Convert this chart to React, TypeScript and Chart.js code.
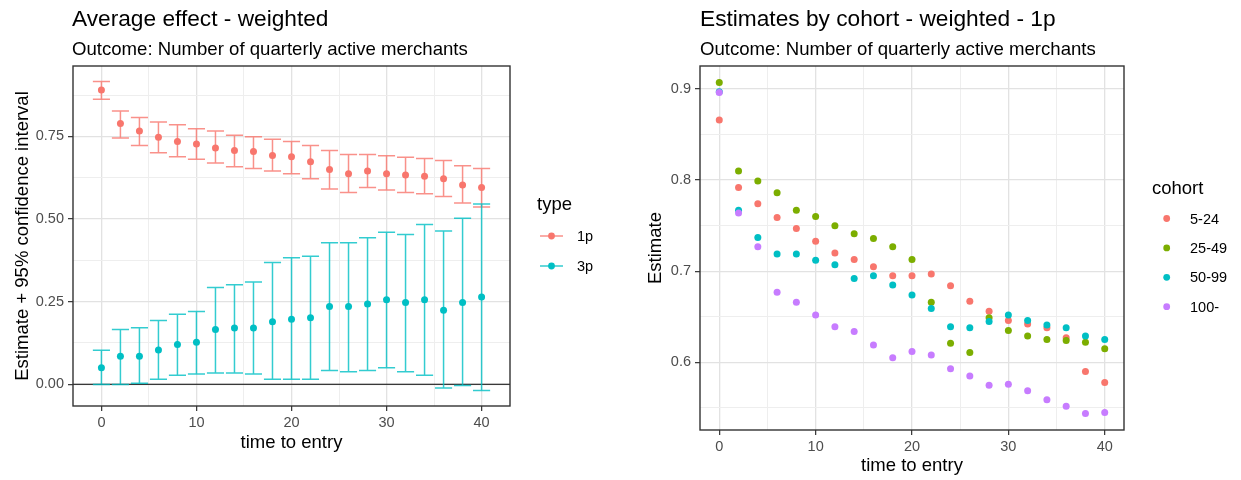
import React, { useEffect, useRef } from 'react';
import { Chart, registerables } from 'chart.js';

Chart.register(...registerables);

const FONT = "'Liberation Sans', Arial, sans-serif";

// ---------- data ----------
const times = [0, 2, 4, 6, 8, 10, 12, 14, 16, 18, 20, 22, 24, 26, 28, 30, 32, 34, 36, 38, 40];

const typeLabels = ['1p', '3p'];
const est1p = [0.890, 0.789, 0.766, 0.747, 0.734, 0.727, 0.715, 0.707, 0.704, 0.692, 0.688, 0.673, 0.650, 0.637, 0.645, 0.637, 0.633, 0.629, 0.622, 0.603, 0.595];
const lo1p = [0.862, 0.745, 0.722, 0.700, 0.688, 0.681, 0.669, 0.658, 0.653, 0.645, 0.637, 0.622, 0.591, 0.580, 0.595, 0.588, 0.580, 0.576, 0.568, 0.548, 0.536];
const hi1p = [0.916, 0.827, 0.807, 0.793, 0.785, 0.773, 0.766, 0.753, 0.749, 0.741, 0.734, 0.722, 0.707, 0.695, 0.695, 0.691, 0.687, 0.683, 0.677, 0.661, 0.653];
const est3p = [0.050, 0.085, 0.085, 0.104, 0.120, 0.127, 0.166, 0.170, 0.170, 0.189, 0.197, 0.201, 0.235, 0.235, 0.243, 0.256, 0.247, 0.256, 0.224, 0.247, 0.264];
const lo3p = [-0.001, -0.001, 0.003, 0.015, 0.027, 0.031, 0.034, 0.034, 0.031, 0.015, 0.015, 0.015, 0.042, 0.038, 0.042, 0.050, 0.038, 0.027, -0.011, -0.004, -0.019];
const hi3p = [0.103, 0.166, 0.171, 0.193, 0.212, 0.220, 0.293, 0.301, 0.309, 0.368, 0.383, 0.387, 0.428, 0.428, 0.443, 0.460, 0.453, 0.483, 0.464, 0.502, 0.545];

const cohortLabels = ['5-24', '25-49', '50-99', '100-'];
const coh5to24 = [0.866, 0.792, 0.774, 0.759, 0.747, 0.733, 0.720, 0.713, 0.705, 0.695, 0.695, 0.697, 0.684, 0.667, 0.656, 0.646, 0.642, 0.638, 0.627, 0.590, 0.578];
const coh25to49 = [0.907, 0.810, 0.799, 0.786, 0.767, 0.760, 0.750, 0.741, 0.736, 0.727, 0.713, 0.666, 0.621, 0.611, 0.649, 0.635, 0.629, 0.625, 0.624, 0.622, 0.615];
const coh50to99 = [0.897, 0.767, 0.737, 0.719, 0.719, 0.712, 0.707, 0.692, 0.695, 0.685, 0.674, 0.659, 0.639, 0.638, 0.645, 0.652, 0.646, 0.641, 0.638, 0.629, 0.625];
const coh100plus = [0.896, 0.764, 0.727, 0.677, 0.666, 0.652, 0.639, 0.634, 0.619, 0.605, 0.612, 0.608, 0.593, 0.585, 0.575, 0.576, 0.569, 0.559, 0.552, 0.544, 0.545];

const xTicks = [0, 5, 10, 15, 20, 25, 30, 35, 40];
const xMajor = [0, 10, 20, 30, 40];
const leftYTicks = [0, 0.125, 0.25, 0.375, 0.5, 0.625, 0.75, 0.875];
const leftYMajor = [0, 0.25, 0.5, 0.75];
const rightYTicks = [0.55, 0.6, 0.65, 0.7, 0.75, 0.8, 0.85, 0.9];
const rightYMajor = [0.6, 0.7, 0.8, 0.9];

const typeColors = ['#F8766D', '#00BFC4'];
const typeBarColors = ['rgba(248,118,109,0.8)', 'rgba(0,191,196,0.8)'];
const cohortColors = ['#F8766D', '#7CAE00', '#00BFC4', '#C77CFF'];

const CAP_HALF = 0.9;

// ---------- helpers ----------
const expand = (lo: number, hi: number) => {
  const r = hi - lo;
  return [lo - r * 0.05, hi + r * 0.05];
};
const isIn = (v: number, arr: number[]) => arr.some((m) => Math.abs(m - v) < 1e-9);

function axis(opts: {
  horizontal: boolean; min: number; max: number; ticks: number[]; major: number[];
  fmt: (v: number) => string; title: string; titlePad: any; size: number; tickPad: number;
}) {
  return {
    type: 'linear',
    min: opts.min,
    max: opts.max,
    afterBuildTicks: (s: any) => {
      s.ticks = opts.ticks.map((v) => ({ value: v }));
    },
    afterFit: (s: any) => {
      if (opts.horizontal) s.height = opts.size;
      else s.width = opts.size;
    },
    border: { display: false },
    grid: {
      color: (c: any) => (c.tick && isIn(c.tick.value, opts.major) ? '#e2e2e2' : '#eeeeee'),
      lineWidth: (c: any) => (c.tick && isIn(c.tick.value, opts.major) ? 1.3 : 1),
      tickColor: (c: any) => (c.tick && isIn(c.tick.value, opts.major) ? '#333333' : 'rgba(0,0,0,0)'),
      tickLength: 5,
      tickWidth: 1.2,
    },
    ticks: {
      autoSkip: false,
      maxRotation: 0,
      minRotation: 0,
      padding: opts.tickPad,
      color: '#4d4d4d',
      font: { family: FONT, size: 14.5 },
      callback: (v: number) => (isIn(v, opts.major) ? opts.fmt(v) : ''),
    },
    title: {
      display: true,
      text: opts.title,
      color: '#000000',
      font: { family: FONT, size: 18.5 },
      padding: opts.titlePad,
    },
  };
}

function drawTitles(ctx: CanvasRenderingContext2D, x: number, title: string, subtitle: string) {
  ctx.save();
  ctx.fillStyle = '#000';
  ctx.textAlign = 'left';
  ctx.textBaseline = 'alphabetic';
  ctx.font = `22.7px ${FONT}`;
  ctx.fillText(title, x, 26);
  ctx.font = `18.6px ${FONT}`;
  ctx.fillText(subtitle, x, 55);
  ctx.restore();
}

function drawBorder(chart: any) {
  const { ctx, chartArea: ca } = chart;
  ctx.save();
  ctx.strokeStyle = '#333333';
  ctx.lineWidth = 1.4;
  ctx.strokeRect(ca.left, ca.top, ca.right - ca.left, ca.bottom - ca.top);
  ctx.restore();
}

function pts(ys: number[]) {
  return times.map((t, i) => ({ x: t, y: ys[i] }));
}

// ---------- left chart ----------
function buildLeft(): any {
  const allLo = [...lo1p, ...lo3p, ...est3p];
  const allHi = [...hi1p, ...hi3p];
  const [ymin, ymax] = expand(Math.min(...allLo), Math.max(...allHi));
  const [xmin, xmax] = expand(times[0] - CAP_HALF, times[times.length - 1] + CAP_HALF);
  const bars = [
    { lo: lo1p, hi: hi1p, color: typeBarColors[0] },
    { lo: lo3p, hi: hi3p, color: typeBarColors[1] },
  ];
  const estimates = [est1p, est3p];

  const plugin = {
    id: 'leftPanel',
    beforeDatasetsDraw(chart: any) {
      const { ctx, chartArea: ca, scales } = chart;
      const x = scales.x;
      const y = scales.y;
      ctx.save();
      ctx.beginPath();
      ctx.rect(ca.left, ca.top, ca.right - ca.left, ca.bottom - ca.top);
      ctx.clip();
      // zero reference line
      const y0 = y.getPixelForValue(0);
      ctx.strokeStyle = '#000';
      ctx.lineWidth = 1.1;
      ctx.beginPath();
      ctx.moveTo(ca.left, y0);
      ctx.lineTo(ca.right, y0);
      ctx.stroke();
      // error bars
      ctx.lineWidth = 1.5;
      bars.forEach((b) => {
        ctx.strokeStyle = b.color;
        times.forEach((t, i) => {
          const px = x.getPixelForValue(t);
          const pl = x.getPixelForValue(t - CAP_HALF);
          const pr = x.getPixelForValue(t + CAP_HALF);
          const yl = y.getPixelForValue(b.lo[i]);
          const yh = y.getPixelForValue(b.hi[i]);
          ctx.beginPath();
          ctx.moveTo(px, yl);
          ctx.lineTo(px, yh);
          ctx.moveTo(pl, yl);
          ctx.lineTo(pr, yl);
          ctx.moveTo(pl, yh);
          ctx.lineTo(pr, yh);
          ctx.stroke();
        });
      });
      ctx.restore();
    },
    afterDraw(chart: any) {
      const { ctx, chartArea: ca } = chart;
      drawBorder(chart);
      drawTitles(ctx, ca.left - 1, 'Average effect - weighted', 'Outcome: Number of quarterly active merchants');
      // legend
      ctx.save();
      ctx.fillStyle = '#000';
      ctx.textAlign = 'left';
      ctx.textBaseline = 'alphabetic';
      ctx.font = `18.5px ${FONT}`;
      ctx.fillText('type', 537, 210);
      ctx.font = `14.5px ${FONT}`;
      ctx.textBaseline = 'middle';
      typeLabels.forEach((lab, i) => {
        const ky = 236 + i * 30;
        ctx.strokeStyle = typeBarColors[i];
        ctx.lineWidth = 1.5;
        ctx.beginPath();
        ctx.moveTo(540, ky);
        ctx.lineTo(563, ky);
        ctx.stroke();
        ctx.fillStyle = typeColors[i];
        ctx.beginPath();
        ctx.arc(551.5, ky, 3.4, 0, Math.PI * 2);
        ctx.fill();
        ctx.fillStyle = '#000';
        ctx.fillText(lab, 577, ky + 1);
      });
      ctx.restore();
    },
  };

  return {
    type: 'scatter',
    data: {
      datasets: typeLabels.map((lab, i) => ({
        label: lab,
        data: pts(estimates[i]),
        backgroundColor: typeColors[i],
        borderWidth: 0,
        pointRadius: 3.5,
        order: 2 - i,
      })),
    },
    options: {
      responsive: false,
      animation: false,
      events: [],
      layout: { padding: { left: 0, top: 66, right: 110, bottom: 24 } },
      plugins: { legend: { display: false }, tooltip: { enabled: false }, title: { display: false } },
      scales: {
        x: axis({
          horizontal: true, min: xmin, max: xmax, ticks: xTicks, major: xMajor,
          fmt: (v) => String(v), title: 'time to entry', titlePad: { top: 0, bottom: 1.5 }, size: 50, tickPad: 3,
        }),
        y: axis({
          horizontal: false, min: ymin, max: ymax, ticks: leftYTicks, major: leftYMajor,
          fmt: (v) => v.toFixed(2), title: 'Estimate + 95% confidence interval', titlePad: { top: 12, bottom: 0 }, size: 73, tickPad: 4,
        }),
      },
    },
    plugins: [plugin],
  };
}

// ---------- right chart ----------
function buildRight(): any {
  const series = [coh5to24, coh25to49, coh50to99, coh100plus];
  const all = series.flat();
  const [ymin, ymax] = expand(Math.min(...all), Math.max(...all));
  const [xmin, xmax] = expand(times[0], times[times.length - 1]);

  const plugin = {
    id: 'rightPanel',
    afterDraw(chart: any) {
      const { ctx, chartArea: ca } = chart;
      drawBorder(chart);
      drawTitles(ctx, ca.left, 'Estimates by cohort - weighted - 1p', 'Outcome: Number of quarterly active merchants');
      ctx.save();
      ctx.fillStyle = '#000';
      ctx.textAlign = 'left';
      ctx.textBaseline = 'alphabetic';
      ctx.font = `18.5px ${FONT}`;
      ctx.fillText('cohort', 532, 194);
      ctx.font = `14.5px ${FONT}`;
      ctx.textBaseline = 'middle';
      cohortLabels.forEach((lab, i) => {
        const ky = 218.5 + i * 29.4;
        ctx.fillStyle = cohortColors[i];
        ctx.beginPath();
        ctx.arc(546.7, ky, 3.4, 0, Math.PI * 2);
        ctx.fill();
        ctx.fillStyle = '#000';
        ctx.fillText(lab, 570, ky + 1);
      });
      ctx.restore();
    },
  };

  return {
    type: 'scatter',
    data: {
      datasets: cohortLabels.map((lab, i) => ({
        label: lab,
        data: pts(series[i]),
        backgroundColor: cohortColors[i],
        borderWidth: 0,
        pointRadius: 3.5,
        order: 4 - i,
      })),
    },
    options: {
      responsive: false,
      animation: false,
      events: [],
      layout: { padding: { left: 0, top: 66, right: 117, bottom: 0 } },
      plugins: { legend: { display: false }, tooltip: { enabled: false }, title: { display: false } },
      scales: {
        x: axis({
          horizontal: true, min: xmin, max: xmax, ticks: xTicks, major: xMajor,
          fmt: (v) => String(v), title: 'time to entry', titlePad: { top: 0, bottom: 2.5 }, size: 50, tickPad: 3,
        }),
        y: axis({
          horizontal: false, min: ymin, max: ymax, ticks: rightYTicks, major: rightYMajor,
          fmt: (v) => v.toFixed(1), title: 'Estimate', titlePad: { top: 25, bottom: 0 }, size: 80, tickPad: 4,
        }),
      },
    },
    plugins: [plugin],
  };
}

function ChartCanvas({ build, left, width }: { build: () => any; left: number; width: number }) {
  const ref = useRef<HTMLCanvasElement | null>(null);
  useEffect(() => {
    if (!ref.current) return;
    const chart = new Chart(ref.current, build());
    return () => chart.destroy();
  }, []);
  return (
    <canvas
      ref={ref}
      width={width}
      height={480}
      style={{ position: 'absolute', left, top: 0, width, height: 480, display: 'block' }}
    />
  );
}

export default function App() {
  return (
    <div style={{ position: 'absolute', left: 0, top: 0, width: 1241, height: 480, background: '#ffffff', overflow: 'hidden' }}>
      <ChartCanvas build={buildLeft} left={0} width={620} />
      <ChartCanvas build={buildRight} left={620} width={621} />
    </div>
  );
}
